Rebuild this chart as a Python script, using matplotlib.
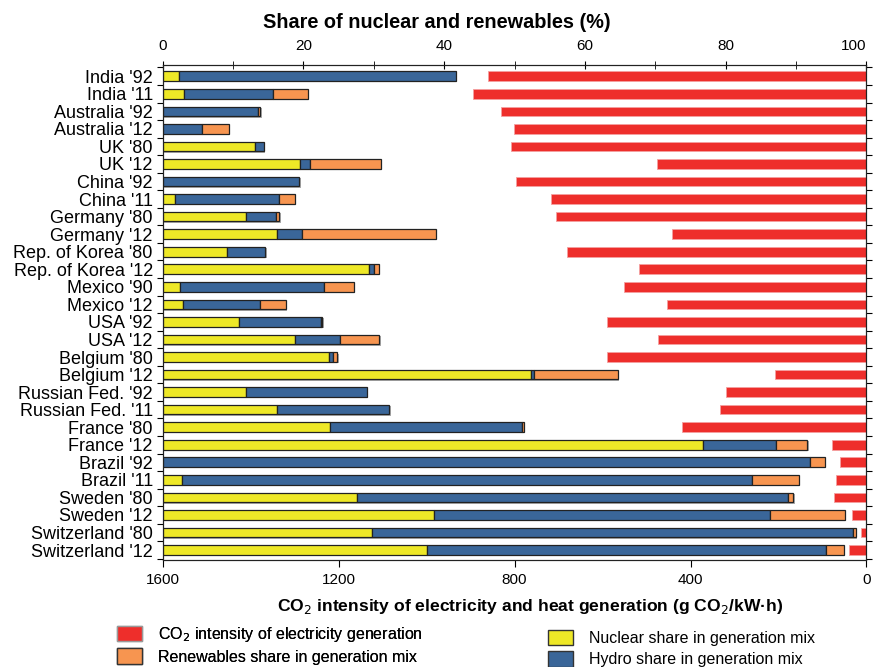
import numpy as np
import matplotlib
matplotlib.use("Agg")
import matplotlib.pyplot as plt
from matplotlib.patches import Patch
import matplotlib.patheffects as pe

plt.rcParams['font.family'] = ['Liberation Sans', 'DejaVu Sans']

labels = ["India '92", "India '11", "Australia '92", "Australia '12", "UK '80", "UK '12",
          "China '92", "China '11", "Germany '80", "Germany '12", "Rep. of Korea '80",
          "Rep. of Korea '12", "Mexico '90", "Mexico '12", "USA '92", "USA '12",
          "Belgium '80", "Belgium '12", "Russian Fed. '92", "Russian Fed. '11",
          "France '80", "France '12", "Brazil '92", "Brazil '11", "Sweden '80",
          "Sweden '12", "Switzerland '80", "Switzerland '12"]

# shares in %
nuclear = [2.4, 3.1, 0, 0, 13.1, 19.5, 0, 1.7, 11.9, 16.3, 9.2, 29.3, 2.5, 2.9,
           10.9, 18.8, 23.7, 52.3, 11.8, 16.3, 23.8, 76.8, 0, 2.8, 27.6, 38.5, 29.8, 37.5]
hydro = [39.3, 12.6, 13.5, 5.6, 1.3, 1.5, 19.4, 14.9, 4.2, 3.5, 5.4, 0.7, 20.4, 10.9,
         11.6, 6.4, 0.5, 0.5, 17.2, 15.9, 27.2, 10.3, 92.0, 80.9, 61.3, 47.8, 68.3, 56.8]
renewables = [0, 4.9, 0.4, 3.8, 0, 10.0, 0, 2.2, 0.5, 19.0, 0, 0.7, 4.3, 3.7, 0.2, 5.6,
              0.6, 11.9, 0, 0, 0.3, 4.5, 2.1, 6.7, 0.7, 10.6, 0.4, 2.5]
# g CO2 / kWh
co2 = [861, 895, 830, 802, 809, 476, 797, 716, 706, 442, 680, 516, 551, 454, 589, 475,
       590, 209, 320, 333, 420, 79, 61, 69, 74, 33, 13, 39]

c_red = '#EE2E2B'
c_yel = '#EEE827'
c_blue = '#3A6699'
c_orange = '#F79550'

fig = plt.figure(figsize=(8.74, 6.67), dpi=100)
ax = fig.add_axes([0.186, 0.1604, 0.8054, 0.7421])  # CO2 axis (bottom)
ax_top = ax.twiny()  # share axis (top)

y = np.arange(len(labels))
h = 0.55
shadow = [pe.SimplePatchShadow(offset=(1, -1), shadow_rgbFace='#888888', alpha=0.7), pe.Normal()]

# red bars, growing leftwards from 0
ax.barh(y, co2, left=0, height=h, color=c_red, edgecolor='#F4A0A0', linewidth=0.6)

nuc = np.array(nuclear)
hyd = np.array(hydro)
ren = np.array(renewables)
for vals, start, col in [(nuc, 0, c_yel), (hyd, nuc, c_blue), (ren, nuc + hyd, c_orange)]:
    lw = np.where(vals > 0, 0.9, 0)
    bars = ax_top.barh(y, vals, left=start, height=h, color=col,
                       edgecolor='#222222', linewidth=lw)
    for b, v in zip(bars, vals):
        if v > 0:
            b.set_path_effects(shadow)

ax.set_xlim(1600, 0)
ax_top.set_xlim(0, 100)
ax.set_ylim(len(labels) - 1 + 0.57, -0.64)

# y axis
ax.set_yticks(y)
ax.set_yticklabels(labels, fontsize=13)
ax.set_yticks(np.arange(len(labels) + 1) - 0.5, minor=True)
ax.tick_params(axis='y', which='major', length=0, pad=7)
ax.tick_params(axis='y', which='minor', length=4, direction='out', right=True, left=True,
               width=0.8)

# bottom axis
ax.set_xticks([1600, 1200, 800, 400, 0])
ax.tick_params(axis='x', which='major', length=5, direction='out', labelsize=11, pad=4)
ax.set_xlabel("CO$_2$ intensity of electricity and heat generation (g CO$_2$/kW·h)",
              fontsize=12.6, fontweight='bold')
ax.xaxis.set_label_coords(0.522, -0.074)

# top axis
ax_top.set_xticks(np.arange(0, 101, 20))
ax_top.set_xticks(np.arange(0, 101, 10), minor=True)
ax_top.tick_params(axis='x', which='both', length=6, direction='inout', labelsize=11, pad=6)
ax_top.set_xlabel("Share of nuclear and renewables (%)", fontsize=14.3, fontweight='bold')
ax_top.xaxis.set_label_coords(0.39, 1.074)
ax_top.xaxis.get_major_ticks()[-1].label2.set_horizontalalignment('right')

for a in (ax, ax_top):
    for s in a.spines.values():
        s.set_linewidth(0.8)
        s.set_color('#222222')

# legend
left_h = [Patch(facecolor=c_red, edgecolor='#999999'),
          Patch(facecolor=c_orange, edgecolor='#333333')]
left_l = ["CO$_2$ intensity of electricity generation", "Renewables share in generation mix"]
right_h = [Patch(facecolor=c_yel, edgecolor='#333333'),
           Patch(facecolor=c_blue, edgecolor='#333333')]
right_l = ["Nuclear share in generation mix", "Hydro share in generation mix"]

leg1 = fig.legend(left_h, left_l, loc='upper left', bbox_to_anchor=(0.117, 0.085),
                  frameon=False, handlelength=1.6, handleheight=1.1,
                  labelspacing=0.3, handletextpad=1.0, prop={'size': 11.5})
leg2 = fig.legend(right_h, right_l, loc='upper left', bbox_to_anchor=(0.610, 0.077),
                  frameon=False, handlelength=1.6, handleheight=1.1,
                  labelspacing=0.33, handletextpad=1.0, prop={'size': 11.5})
fig.add_artist(leg1)

fig.savefig("out.png", dpi=100)
